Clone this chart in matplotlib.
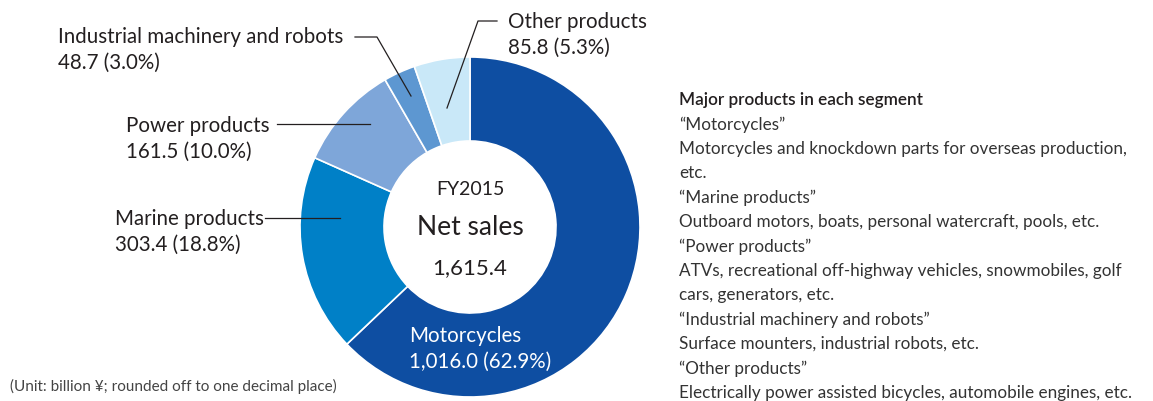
import matplotlib.pyplot as plt

# Segment net sales FY2015 (billion yen)
segments = ['Motorcycles', 'Marine products', 'Power products',
            'Industrial machinery and robots', 'Other products']
sales = [1016.0, 303.4, 161.5, 48.7, 85.8]
shares = [62.9, 18.8, 10.0, 3.0, 5.3]
colors = ['#0e4ea2', '#0080c7', '#7ea6d9', '#5d97d1', '#c9e8f8']
total = 1615.4

notes = [
    '\u201cMotorcycles\u201d',
    'Motorcycles and knockdown parts for overseas production,',
    'etc.',
    '\u201cMarine products\u201d',
    'Outboard motors, boats, personal watercraft, pools, etc.',
    '\u201cPower products\u201d',
    'ATVs, recreational off-highway vehicles, snowmobiles, golf',
    'cars, generators, etc.',
    '\u201cIndustrial machinery and robots\u201d',
    'Surface mounters, industrial robots, etc.',
    '\u201cOther products\u201d',
    'Electrically power assisted bicycles, automobile engines, etc.',
]

plt.rcParams['font.family'] = ['Lato', 'DejaVu Sans']
TXT = '#231f20'
W, H = 1153, 402

fig = plt.figure(figsize=(W / 100, H / 100), dpi=100)
ax = fig.add_axes([0, 0, 1, 1])

def y(v):
    # image pixel row -> data y
    return H - v

cx, cy, r_out, r_in = 470, 228, 170, 86
ax.pie(sales, colors=colors, startangle=90, counterclock=False,
       center=(cx, y(cy)), radius=r_out, frame=True,
       wedgeprops=dict(width=r_out - r_in, edgecolor='white', linewidth=1.2))
ax.set_xlim(0, W)
ax.set_ylim(0, H)
ax.set_aspect('equal')
ax.axis('off')

# centre text
ax.text(cx, y(190), 'FY2015', ha='center', va='center', fontsize=14, color=TXT)
ax.text(cx, y(228), 'Net sales', ha='center', va='center', fontsize=19, color=TXT)
ax.text(cx, y(268), f'{total:,.1f}', ha='center', va='center', fontsize=16, color=TXT)

fs = 14.8
def label(x0, y0, i, color=TXT):
    ax.text(x0, y(y0), segments[i], ha='left', va='center', fontsize=fs, color=color)
    ax.text(x0, y(y0 + 26), f'{sales[i]:,.1f} ({shares[i]:.1f}%)',
            ha='left', va='center', fontsize=fs, color=color)

label(409, 336, 0, color='white')
label(115, 219, 1)
label(126, 126, 2)
label(58, 37, 3)
label(508, 22, 4)

# leader lines
lc = dict(color=TXT, linewidth=0.9)
ax.plot([265, 340], [y(219), y(219)], **lc)
ax.plot([277, 370], [y(125), y(125)], **lc)
ax.plot([355, 377, 411], [y(38), y(38), y(97)], **lc)
ax.plot([497, 478, 447], [y(22), y(22), y(109)], **lc)

ax.text(10, y(386), '(Unit: billion \u00a5; rounded off to one decimal place)',
        ha='left', va='center', fontsize=11, color='#444444')

# segment notes on the right
ax.text(679, y(100), 'Major products in each segment', ha='left', va='center',
        fontsize=12.3, fontweight='semibold', color=TXT)
for k, line in enumerate(notes):
    ax.text(679, y(124.5 + k * 24.4), line, ha='left', va='center',
            fontsize=12.3, color='#333333')

fig.savefig('out.png', dpi=100)
